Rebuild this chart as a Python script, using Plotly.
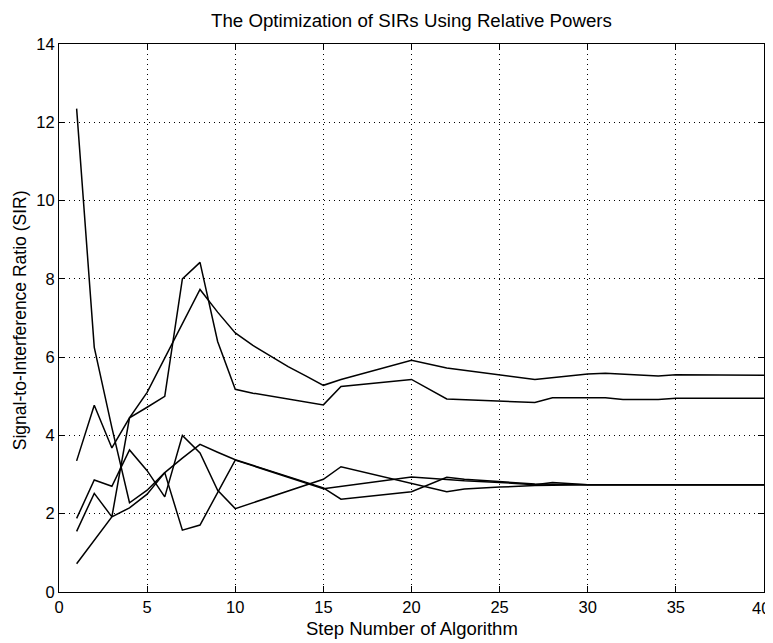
import plotly.graph_objects as go

# Series (step number, SIR)
user1_x = [1, 2, 3, 4, 5, 6, 7, 8, 9, 10, 11, 12, 13, 14, 15, 16, 20, 22, 25, 27, 30, 31, 34, 35, 40]
user1_y = [1.55, 2.52, 1.92, 4.45, 5.1, 5.98, 6.85, 7.73, 7.15, 6.62, 6.3, 6.02, 5.76, 5.52, 5.28, 5.43, 5.92, 5.72, 5.54, 5.43, 5.57, 5.59, 5.52, 5.55, 5.54]

user2_x = [1, 2, 3, 4, 5, 6, 7, 8, 9, 10, 11, 15, 16, 20, 22, 25, 27, 28, 31, 32, 34, 35, 40]
user2_y = [3.35, 4.77, 3.68, 4.45, 4.72, 5.0, 8.0, 8.42, 6.4, 5.18, 5.08, 4.78, 5.25, 5.43, 4.93, 4.88, 4.84, 4.96, 4.96, 4.92, 4.92, 4.95, 4.95]

user3_x = [1, 2, 3, 4, 5, 6, 7, 8, 9, 10, 15, 16, 20, 22, 23, 25, 27, 30, 40]
user3_y = [12.35, 6.25, 4.2, 2.28, 2.6, 3.05, 3.42, 3.77, 3.57, 3.38, 2.66, 2.37, 2.56, 2.93, 2.88, 2.82, 2.76, 2.74, 2.74]

user4_x = [1, 3, 4, 5, 6, 7, 8, 10, 15, 16, 20, 23, 25, 27, 28, 30, 40]
user4_y = [0.72, 1.92, 2.15, 2.5, 3.05, 1.58, 1.71, 3.37, 2.64, 2.7, 2.94, 2.84, 2.8, 2.74, 2.8, 2.74, 2.74]

user5_x = [1, 2, 3, 4, 5, 6, 7, 8, 9, 10, 15, 16, 22, 23, 25, 27, 30, 40]
user5_y = [1.88, 2.86, 2.7, 3.63, 3.1, 2.43, 4.0, 3.55, 2.6, 2.13, 2.88, 3.2, 2.56, 2.63, 2.68, 2.72, 2.74, 2.74]

x_ticks = [0, 5, 10, 15, 20, 25, 30, 35, 40]
y_ticks = [0, 2, 4, 6, 8, 10, 12, 14]

title_text = "The Optimization of SIRs Using Relative Powers"
x_title = "Step Number of Algorithm"
y_title = "Signal-to-Interference Ratio (SIR)"

FONT = "Liberation Sans, Arial, Helvetica, sans-serif"

fig = go.Figure()
for xs, ys in [(user1_x, user1_y), (user2_x, user2_y), (user3_x, user3_y),
               (user4_x, user4_y), (user5_x, user5_y)]:
    fig.add_trace(go.Scatter(x=xs, y=ys, mode="lines",
                             line=dict(color="black", width=1.5),
                             showlegend=False, hoverinfo="skip"))

axis_common = dict(
    showline=True, linecolor="black", linewidth=1.2, mirror="ticks",
    ticks="inside", ticklen=6, tickwidth=1, tickcolor="black",
    showgrid=True, gridcolor="black", gridwidth=1, griddash="1px,4px",
    zeroline=False, tickfont=dict(family=FONT, size=16.5, color="black"),
    automargin=False,
)

# the last x tick label sits at the window edge; it is drawn as an annotation
x_ticktext = [str(v) for v in x_ticks]
last_x_label = x_ticktext[-1]
x_ticktext[-1] = ""

# page body adds an 8px offset, so the figure is sized to the remaining window
fig.update_layout(
    width=765, height=635,
    margin=dict(l=51, r=9, t=36, b=51, autoexpand=False),
    paper_bgcolor="white", plot_bgcolor="white",
    xaxis=dict(range=[-0.0005, 40.0005], tickvals=x_ticks,
               ticktext=x_ticktext, **axis_common),
    yaxis=dict(range=[-0.0002, 14.0002], tickvals=y_ticks,
               ticktext=[str(v) for v in y_ticks], **axis_common),
)

fig.add_annotation(text=last_x_label, xref="x", yref="paper",
                   x=x_ticks[-1], y=-15.5 / 548, xanchor="right", yanchor="middle",
                   xshift=8, showarrow=False,
                   font=dict(family=FONT, size=16.5, color="black"))
fig.add_annotation(text=title_text, xref="paper", yref="paper",
                   x=0.5, y=1 + 24 / 548, xanchor="center", yanchor="middle",
                   showarrow=False, font=dict(family=FONT, size=18.7, color="black"))
fig.add_annotation(text=x_title, xref="paper", yref="paper",
                   x=0.5, y=-36 / 548, xanchor="center", yanchor="middle",
                   showarrow=False, font=dict(family=FONT, size=18.5, color="black"))
fig.add_annotation(text=y_title, xref="paper", yref="paper", textangle=-90,
                   x=-39 / 705, y=0.496, xanchor="center", yanchor="middle",
                   showarrow=False, font=dict(family=FONT, size=17.5, color="black"))

fig.write_html("out.html")
